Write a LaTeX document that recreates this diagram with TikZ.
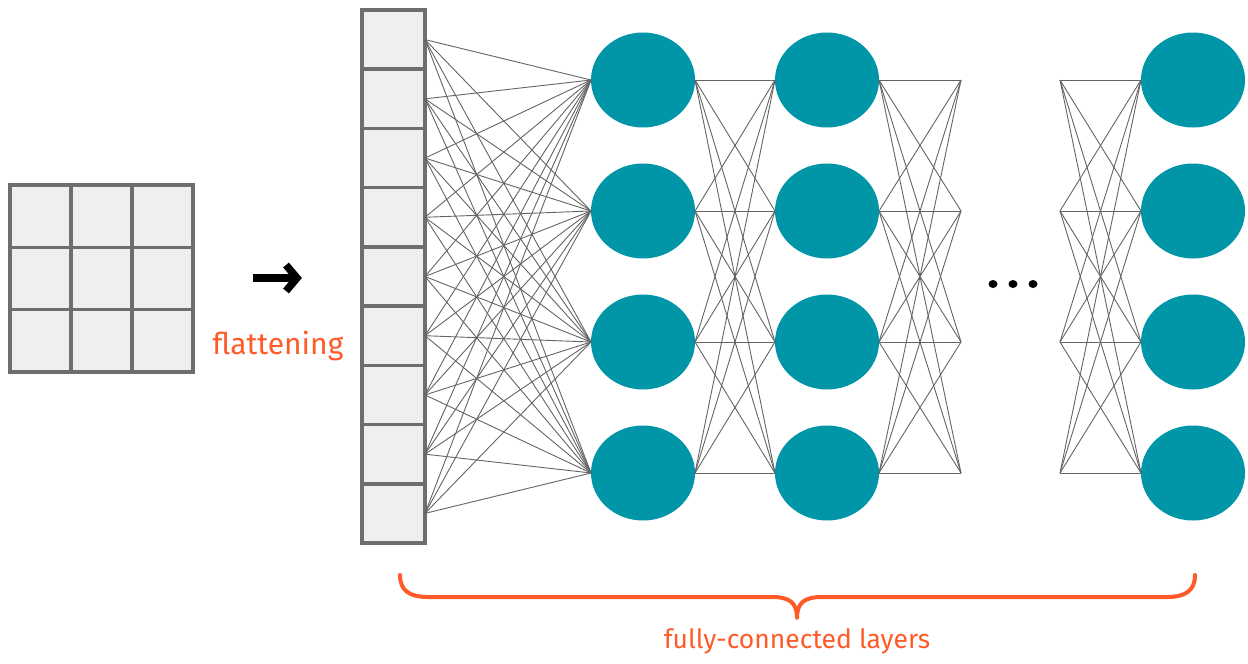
\documentclass[tikz,border=0pt]{standalone}
\usepackage{fontspec}
\setmainfont{Fira Sans}
\usetikzlibrary{shapes.geometric,arrows.meta}
\definecolor{nnteal}{RGB}{0,149,167}
\definecolor{cellgray}{RGB}{110,110,110}
\definecolor{cellfill}{RGB}{239,239,239}
\definecolor{linegray}{RGB}{100,100,100}
\definecolor{lblorange}{RGB}{255,90,40}
\begin{document}
\begin{tikzpicture}[x=1pt,y=-1pt,
  cell/.style={draw=cellgray,fill=cellfill,line width=3.5pt,minimum width=61pt,minimum height=62.3pt,inner sep=0pt,outer sep=0pt},
  vcell/.style={cell,minimum width=63pt,minimum height=59.22pt},
  neuron/.style={ellipse,fill=nnteal,minimum width=104pt,minimum height=95pt,inner sep=0pt,outer sep=0pt},
  conn/.style={draw=linegray,line width=0.9pt},
  lbl/.style={text=lblorange,inner sep=0pt},
  dotmark/.style={ellipse,fill=black,minimum width=9pt,minimum height=8pt,inner sep=0pt},
  arrowstroke/.style={line width=7.5pt,line join=miter,miter limit=10},
  bracepath/.style={draw=lblorange,line width=4pt,line cap=round,line join=round}]
\useasboundingbox (0,0) rectangle (1248,664);
% 3x3 grid
\foreach \r in {1,2,3}
  \foreach \c in {1,2,3}
    \node[cell] (g\r\c) at ({10+61*(\c-0.5)},{185+62.3*(\r-0.5)}) {};
% arrow
\coordinate (ar1) at (253,278);
\coordinate (ar2) at (297,278);
\coordinate (ah1) at (286,265);
\coordinate (ah2) at (286,291);
\draw[arrowstroke] (ar1) -- (ar2);
\draw[arrowstroke] (ah1) -- (ar2) -- (ah2);
\node[lbl,font=\fontsize{30}{32}\selectfont] (fl) at (278,346) {flattening};
% flattened column
\foreach \i in {1,...,9}
  \node[vcell] (c\i) at (393.5,{10+59.22*(\i-0.5)}) {};
% neurons
\foreach \i/\y in {1/80,2/211,3/342,4/473} {
  \node[neuron] (a\i) at (643,\y) {};
  \node[neuron] (b\i) at (827,\y) {};
  \node[neuron] (d\i) at (1193,\y) {};
  \coordinate (p\i) at (961,\y);
  \coordinate (q\i) at (1060,\y);
}
% connections
\foreach \i in {1,...,9}
  \foreach \j in {1,...,4}
    \draw[conn] (c\i.east) -- (a\j.west);
\foreach \i in {1,...,4}
  \foreach \j in {1,...,4} {
    \draw[conn] (a\i.east) -- (b\j.west);
    \draw[conn] (b\i.east) -- (p\j);
    \draw[conn] (q\i) -- (d\j.west);
  }
% dots
\node[dotmark] (dot1) at (993,284) {};
\node[dotmark] (dot2) at (1013,284) {};
\node[dotmark] (dot3) at (1033,284) {};
% brace
\coordinate (bL) at (400,575);
\coordinate (bR) at (1195,575);
\coordinate (bT) at (797,618);
\draw[bracepath] (bL) .. controls (400,591) and (410,597) .. (428,597) -- (772,597)
  .. controls (790,597) and (797,603) .. (bT)
  .. controls (797,603) and (804,597) .. (822,597) -- (1167,597)
  .. controls (1185,597) and (1195,591) .. (bR);
\node[lbl,font=\fontsize{26.5}{28}\selectfont] (fc) at (797,641) {fully-connected layers};
\end{tikzpicture}
\end{document}
